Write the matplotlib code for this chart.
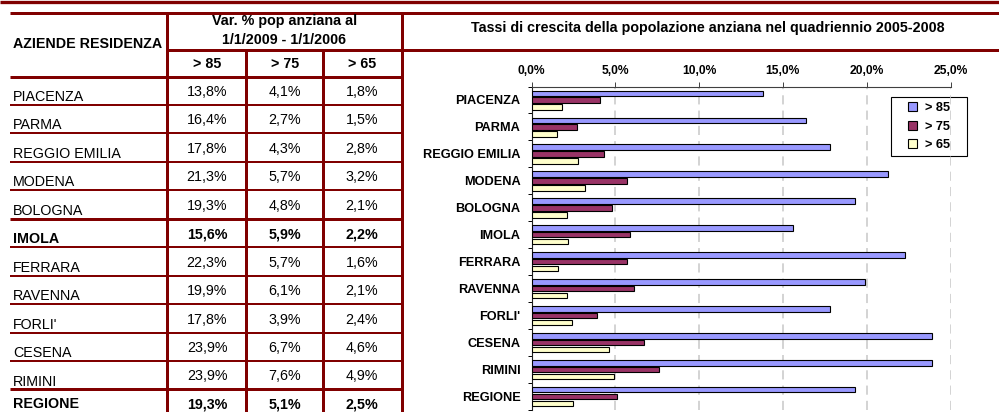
import numpy as np
import matplotlib
matplotlib.use('Agg')
import matplotlib.pyplot as plt
from matplotlib.patches import Rectangle
from matplotlib.ticker import FuncFormatter

plt.rcParams['font.family'] = ['Liberation Sans', 'DejaVu Sans']

# dati
aziende = ['PIACENZA', 'PARMA', 'REGGIO EMILIA', 'MODENA', 'BOLOGNA', 'IMOLA',
           'FERRARA', 'RAVENNA', "FORLI'", 'CESENA', 'RIMINI', 'REGIONE']
over85 = [13.8, 16.4, 17.8, 21.3, 19.3, 15.6, 22.3, 19.9, 17.8, 23.9, 23.9, 19.3]
over75 = [4.1, 2.7, 4.3, 5.7, 4.8, 5.9, 5.7, 6.1, 3.9, 6.7, 7.6, 5.1]
over65 = [1.8, 1.5, 2.8, 3.2, 2.1, 2.2, 1.6, 2.1, 2.4, 4.6, 4.9, 2.5]
serie_labels = ['> 85', '> 75', '> 65']
bold_rows = ['IMOLA', 'REGIONE']

MAROON = '#800000'
colori = ['#9999FF', '#993366', '#FFFFCC']
W, H = 999, 412
px = 0.72  # 1 pixel in punti a 100 dpi

fig = plt.figure(figsize=(W / 100, H / 100), dpi=100)

# livello di disegno in pixel per la tabella
canvas = fig.add_axes([0, 0, 1, 1])
canvas.set_xlim(0, W)
canvas.set_ylim(H, 0)
canvas.axis('off')


def hline(y, x0, x1, lw):
    canvas.plot([x0, x1], [y, y], color=MAROON, lw=lw * px, solid_capstyle='butt')


def vline(x, y0, y1, lw):
    canvas.plot([x, x], [y0, y1], color=MAROON, lw=lw * px, solid_capstyle='butt')


hline(1.6, 0, W, 3.3)
hline(12.5, 10, W, 3)
hline(49.5, 167, W, 3)
hline(76.5, 10, 402, 3)

row_h = 28.45
row_top = 76.5
for i in range(1, len(aziende)):
    y = row_top + i * row_h
    thick = aziende[i] in bold_rows
    hline(y, 10, 402, 3 if thick else 2)

vline(167, 12.5, H, 3)
vline(246, 49.5, H, 3)
vline(323, 49.5, H, 3)
vline(402, 12.5, H, 3)

# intestazioni
fs = 10.3
canvas.text(13, 47.5, 'AZIENDE RESIDENZA', fontsize=fs, fontweight='bold', va='baseline')
canvas.text(284.5, 25, 'Var. % pop anziana al', fontsize=fs, fontweight='bold',
            ha='center', va='baseline')
canvas.text(284.5, 44, '1/1/2009 - 1/1/2006', fontsize=fs, fontweight='bold',
            ha='center', va='baseline')
col_x = [207, 285, 362]
for cx, lab in zip(col_x, serie_labels):
    canvas.text(cx, 68, lab, fontsize=fs, fontweight='bold', ha='center', va='baseline')


def pct(v):
    return ('%.1f%%' % v).replace('.', ',')


for i, nome in enumerate(aziende):
    top = row_top + i * row_h
    w = 'bold' if nome in bold_rows else 'normal'
    canvas.text(13, min(top + 24.5, 408.5), nome, fontsize=fs, fontweight=w, va='baseline')
    for cx, serie in zip(col_x, [over85, over75, over65]):
        canvas.text(cx, min(top + 19.5, 408.5), pct(serie[i]), fontsize=fs, fontweight=w,
                    ha='center', va='baseline')

# titolo del grafico
canvas.text(708, 31.5, 'Tassi di crescita della popolazione anziana nel quadriennio 2005-2008',
            fontsize=10.3, fontweight='bold', ha='center', va='baseline')

# grafico a barre
x0, x1 = 531.5, 950.5
y_top, y_bot = 86.5, 410
ax = fig.add_axes([x0 / W, 1 - y_bot / H, (x1 - x0) / W, (y_bot - y_top) / H])
ax.patch.set_alpha(0)

pos = np.arange(len(aziende))
offs = [-0.25, 0.0, 0.26]
for serie, c, o, lab in zip([over85, over75, over65], colori, offs, serie_labels):
    ax.barh(pos + o, serie, height=0.2, color=c, edgecolor='black', linewidth=0.8,
            label=lab, zorder=3)

ax.set_xlim(0, 25)
ax.set_ylim(len(aziende) - 0.5, -0.5)
ax.set_xticks(np.arange(0, 26, 5))
ax.xaxis.set_major_formatter(FuncFormatter(lambda v, p: pct(v)))
ax.xaxis.tick_top()
ax.tick_params(axis='x', direction='out', length=3.5, width=0.7, pad=3,
               labelsize=8.7, color='#404040')
for lab in ax.get_xticklabels():
    lab.set_fontweight('bold')

ax.set_yticks(pos)
ax.set_yticklabels(aziende, fontweight='bold', fontsize=9.2)
ax.set_yticks(np.arange(-0.5, len(aziende), 1), minor=True)
ax.tick_params(axis='y', which='major', length=0, pad=8)
ax.tick_params(axis='y', which='minor', length=3, width=0.7, direction='out')

ax.grid(axis='x', color='#C8C8C8', linestyle=(0, (6, 4)), linewidth=1.1, zorder=0)
ax.spines['right'].set_visible(False)
ax.spines['bottom'].set_visible(False)
ax.spines['top'].set_color('#404040')
ax.spines['top'].set_linewidth(0.8)
ax.spines['left'].set_color('#202020')
ax.spines['left'].set_linewidth(0.8)

# legenda: cornice fissa e voci centrate al suo interno
canvas.add_patch(Rectangle((891, 97), 76, 59, facecolor='white', edgecolor='black',
                           linewidth=0.8, zorder=4))
leg = ax.legend(loc='center', bbox_to_anchor=(929 / W, 1 - 126.5 / H),
                bbox_transform=fig.transFigure, borderaxespad=0, frameon=False,
                handlelength=0.7, handleheight=0.7, handletextpad=0.6,
                borderpad=0.2, labelspacing=0.5,
                prop={'weight': 'bold', 'size': 9.2})
leg.set_zorder(5)

fig.savefig('out.png', dpi=100)
